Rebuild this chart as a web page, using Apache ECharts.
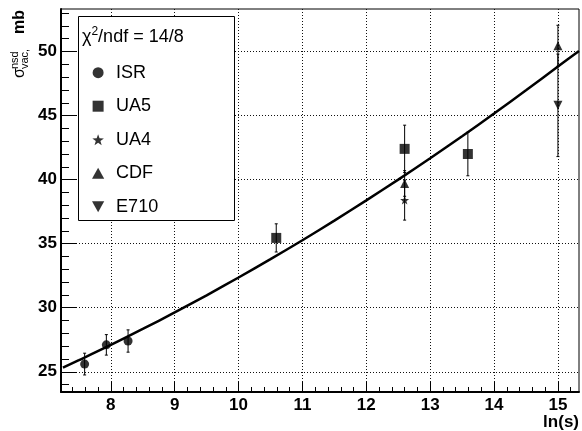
<!DOCTYPE html>
<html><head><meta charset="utf-8">
<script src="https://cdn.jsdelivr.net/npm/echarts@6/dist/echarts.min.js"></script>
<style>html,body{margin:0;padding:0;background:#fff}#c{width:582px;height:431px}</style>
</head><body><div id="c"></div>
<script>
// ---- data ----
const isrX = [7.59, 7.93, 8.27];
const isrY = [25.6, 27.1, 27.4];
const isrErr = [0.85, 0.8, 0.87];

const ua5X = [10.59, 12.6, 13.59];
const ua5Y = [35.45, 42.4, 42.0];
const ua5Err = [1.1, 1.85, 1.7];

const ua4X = [12.6];
const ua4Y = [38.4];
const ua4Err = [1.56];

const cdfX = [12.6, 15.0];
const cdfY = [39.7, 50.45];
const cdfErr = [1.0, 1.6];

const e710X = [15.0];
const e710Y = [45.8];
const e710Err = [4.0];

const fitX = [7.25, 7.5, 8.0, 8.5, 9.0, 9.5, 10.0, 10.5, 11.0, 11.5, 12.0, 12.5, 13.0, 13.5, 14.0, 14.5, 15.0, 15.33];
const fitY = [25.32, 25.90, 27.09, 28.34, 29.63, 30.97, 32.36, 33.79, 35.27, 36.80, 38.38, 40.00, 41.67, 43.39, 45.16, 46.97, 48.83, 50.05];

const xTickLabels = [8, 9, 10, 11, 12, 13, 14, 15];
const yTickLabels = [25, 30, 35, 40, 45, 50];
const X_MIN = 7.22, X_MAX = 15.33;
const Y_MIN = 23.42, Y_MAX = 53.32;

// minor tick values
const xMinor = [];
for (let v = 74; v <= 153; v += 2) { if (v % 10 !== 0) xMinor.push(v / 10); }
const yMinor = [];
for (let v = 24; v <= 53; v++) { if (v % 5 !== 0) yMinor.push(v); }

const FONT = '"Liberation Sans", Arial, Helvetica, sans-serif';

function pts(xs, ys) { return xs.map((x, i) => [x, ys[i]]); }
const errData = [];
[[isrX, isrY, isrErr], [ua5X, ua5Y, ua5Err], [ua4X, ua4Y, ua4Err], [cdfX, cdfY, cdfErr], [e710X, e710Y, e710Err]]
  .forEach(([xs, ys, es]) => xs.forEach((x, i) => errData.push([x, ys[i] - es[i], ys[i] + es[i]])));

const STAR = 'path://M0,-10 L2.35,-3.24 9.51,-3.09 3.8,1.24 5.88,8.09 0,4 -5.88,8.09 -3.8,1.24 -9.51,-3.09 -2.35,-3.24 Z';
const TRI_DOWN = 'path://M-5,-4.5 L5,-4.5 L0,4.5 Z';
const TRI_UP = 'path://M-5,4.5 L5,4.5 L0,-4.5 Z';
const SQUARE = 'path://M0,0 L10,0 L10,10 L0,10 Z';

const chart = echarts.init(document.getElementById('c'), null, {renderer: 'canvas'});

function gridLine() { return {show: true, showMinLine: true, showMaxLine: true, lineStyle: {type: [1, 2], color: '#111', width: 1, opacity: 1}}; }
const option = {
  animation: false,
  backgroundColor: '#fff',
  grid: {left: 61, top: 9, right: 3, bottom: 39, show: true, borderColor: '#000', borderWidth: 1},
  xAxis: [
    {
      type: 'value', min: X_MIN, max: X_MAX, splitNumber: 8, position: 'bottom', z: 1,
      axisLine: {show: true, onZero: false, lineStyle: {color: '#000', width: 2}},
      splitLine: gridLine(),
      axisTick: {show: true, inside: true, length: 10, customValues: xTickLabels, lineStyle: {color: '#000', width: 1}},
      axisLabel: {show: true, customValues: xTickLabels, margin: 5,
        fontFamily: FONT, fontWeight: 'bold', fontSize: 17, color: '#000'},
      name: 'ln(s)', nameLocation: 'end', nameGap: 0,
      nameTextStyle: {fontFamily: FONT, fontWeight: 'bold', fontSize: 17, color: '#000', align: 'right', verticalAlign: 'top', padding: [22, 0, 0, 0]}
    },
    {
      type: 'value', min: X_MIN, max: X_MAX, position: 'bottom',
      axisLine: {show: false}, axisLabel: {show: false}, splitLine: {show: false},
      axisTick: {show: true, inside: true, length: 5, customValues: xMinor, lineStyle: {color: '#000', width: 1}}
    }
  ],
  yAxis: [
    {
      type: 'value', min: Y_MIN, max: Y_MAX, splitNumber: 6, position: 'left', z: 1,
      axisLine: {show: true, onZero: false, lineStyle: {color: '#000', width: 2}},
      splitLine: gridLine(),
      axisTick: {show: true, inside: true, length: 16, customValues: yTickLabels, lineStyle: {color: '#000', width: 1}},
      axisLabel: {show: true, customValues: yTickLabels, margin: 4,
        fontFamily: FONT, fontWeight: 'bold', fontSize: 17, color: '#000'}
    },
    {
      type: 'value', min: Y_MIN, max: Y_MAX, position: 'left',
      axisLine: {show: false}, axisLabel: {show: false}, splitLine: {show: false},
      axisTick: {show: true, inside: true, length: 8, customValues: yMinor, lineStyle: {color: '#000', width: 1}}
    }
  ],
  legend: {
    data: [
      {name: 'ISR', icon: 'circle'},
      {name: 'UA5', icon: SQUARE},
      {name: 'UA4', icon: STAR},
      {name: 'CDF', icon: TRI_UP},
      {name: 'E710', icon: TRI_DOWN}
    ],
    orient: 'vertical', left: 92, top: 62.7, padding: 0,
    itemWidth: 26, itemHeight: 11, itemGap: 13.5, selectedMode: false, z: 6,
    itemStyle: {color: '#000'},
    textStyle: {fontFamily: FONT, fontSize: 18, color: '#000', lineHeight: 20}
  },
  graphic: [
    {type: 'rect', z: 5, shape: {x: 78.5, y: 16.5, width: 156, height: 204},
      style: {fill: '#fff', stroke: '#000', lineWidth: 1}},
    {type: 'text', z: 7, x: 82, y: 37,
      style: {text: '{c|χ}{s|2}{c|/ndf = 14/8}', verticalAlign: 'middle', align: 'left',
        rich: {c: {fontFamily: FONT, fontSize: 18, lineHeight: 22, fill: '#000'},
               s: {fontFamily: FONT, fontSize: 12, lineHeight: 16, verticalAlign: 'top', fill: '#000'}}}},
    {type: 'group', x: 20, y: 78, rotation: Math.PI / 2, z: 7,
      children: [
        {type: 'text', x: 0, y: 0, style: {text: 'σ', fontFamily: FONT, fontSize: 16, fill: '#000', align: 'left', verticalAlign: 'middle'}},
        {type: 'text', x: 9, y: -5, style: {text: 'nsd', fontFamily: FONT, fontSize: 11, fill: '#000', align: 'left', verticalAlign: 'middle'}},
        {type: 'text', x: 9, y: 5, style: {text: 'vac,', fontFamily: FONT, fontSize: 11, fill: '#000', align: 'left', verticalAlign: 'middle'}},
        {type: 'text', x: 44, y: 0, style: {text: 'mb', fontFamily: FONT, fontSize: 16, fontWeight: 'bold', fill: '#000', align: 'left', verticalAlign: 'middle'}}
      ]}
  ],
  series: [
    {name: 'fit', type: 'line', data: pts(fitX, fitY), showSymbol: false, smooth: 0.3,
      lineStyle: {color: '#000', width: 2.5}, z: 3, silent: true},
    {name: 'errors', type: 'custom', data: errData, z: 3, silent: true,
      encode: {x: 0, y: [1, 2]},
      renderItem: function (params, api) {
        const x = api.value(0), lo = api.value(1), hi = api.value(2);
        const p1 = api.coord([x, hi]), p2 = api.coord([x, lo]);
        const cw = 1.5, st = {stroke: '#000', lineWidth: 1};
        return {type: 'group', children: [
          {type: 'line', shape: {x1: p1[0], y1: p1[1], x2: p2[0], y2: p2[1]}, style: st},
          {type: 'line', shape: {x1: p1[0] - cw, y1: p1[1], x2: p1[0] + cw, y2: p1[1]}, style: st},
          {type: 'line', shape: {x1: p2[0] - cw, y1: p2[1], x2: p2[0] + cw, y2: p2[1]}, style: st}
        ]};
      }},
    {name: 'ISR', type: 'scatter', data: pts(isrX, isrY), symbol: 'circle', symbolSize: 9, itemStyle: {color: '#000'}, z: 4},
    {name: 'UA5', type: 'scatter', data: pts(ua5X, ua5Y), symbol: 'rect', symbolSize: 10, itemStyle: {color: '#000'}, z: 4},
    {name: 'UA4', type: 'scatter', data: pts(ua4X, ua4Y), symbol: STAR, symbolSize: 9, itemStyle: {color: '#000'}, z: 4},
    {name: 'CDF', type: 'scatter', data: pts(cdfX, cdfY), symbol: TRI_UP, symbolSize: [9, 9], itemStyle: {color: '#000'}, z: 4},
    {name: 'E710', type: 'scatter', data: pts(e710X, e710Y), symbol: TRI_DOWN, symbolSize: [9, 9], itemStyle: {color: '#000'}, z: 4}
  ]
};
chart.setOption(option);
</script>
</body></html>
